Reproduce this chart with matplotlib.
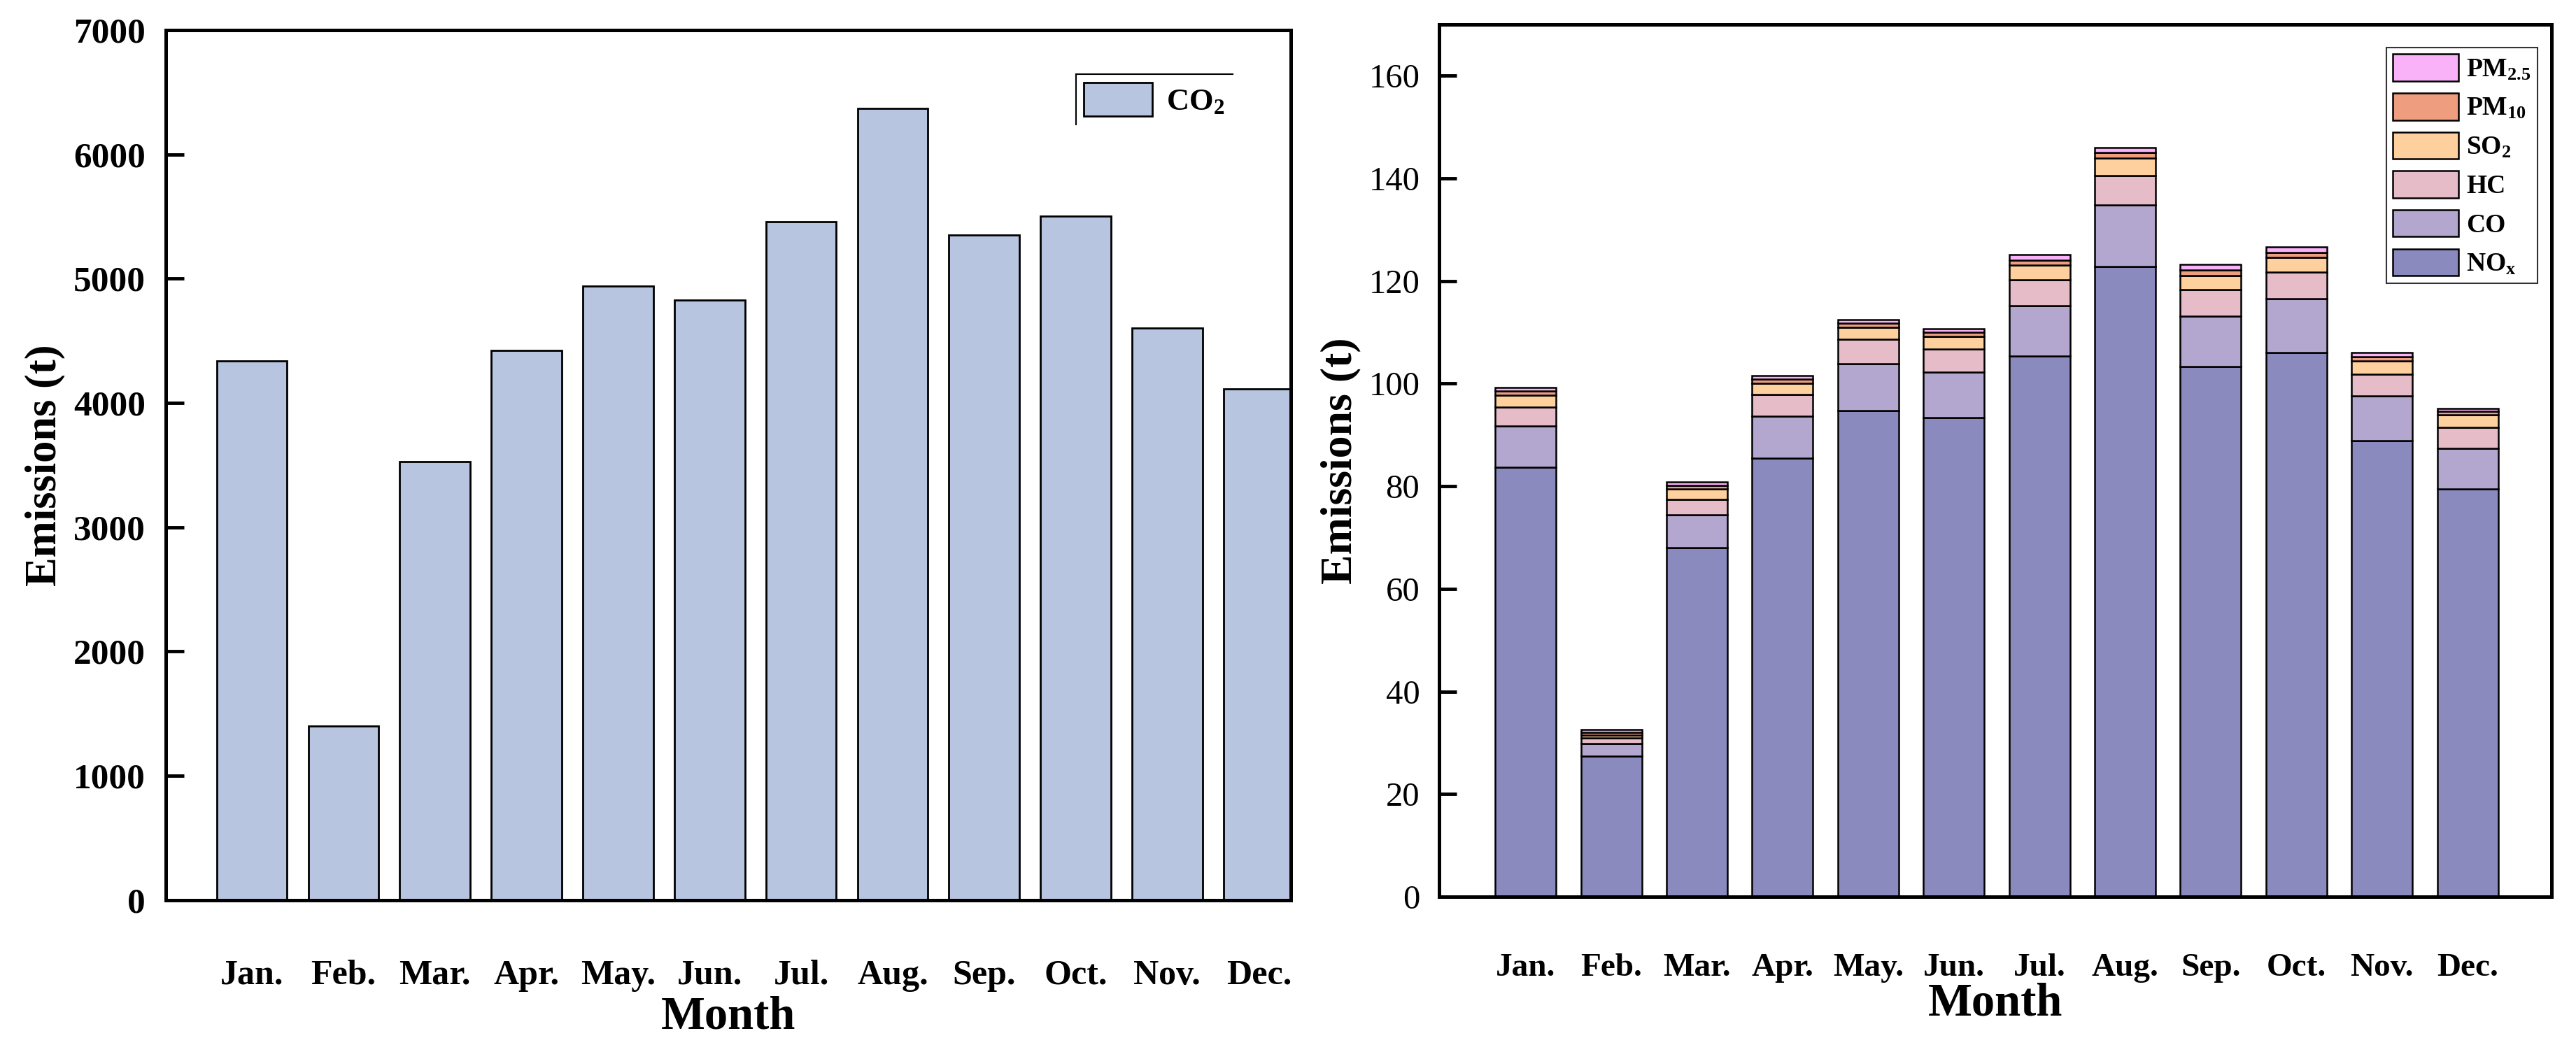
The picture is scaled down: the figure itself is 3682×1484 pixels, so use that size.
import matplotlib
matplotlib.use("Agg")
import matplotlib.pyplot as plt
import numpy as np
from matplotlib.lines import Line2D

plt.rcParams['font.family'] = ['Liberation Serif', 'DejaVu Serif']
plt.rcParams['mathtext.fontset'] = 'custom'
plt.rcParams['mathtext.rm'] = 'Liberation Serif:bold'
plt.rcParams['mathtext.it'] = 'Liberation Serif:bold'
plt.rcParams['mathtext.bf'] = 'Liberation Serif:bold'
plt.rcParams['mathtext.default'] = 'rm'

months = ['Jan.', 'Feb.', 'Mar.', 'Apr.', 'May.', 'Jun.', 'Jul.', 'Aug.', 'Sep.', 'Oct.', 'Nov.', 'Dec.']

co2 = [4340, 1400, 3530, 4420, 4940, 4830, 5460, 6370, 5350, 5500, 4600, 4110]

nox = [83.7, 27.4, 68.0, 85.5, 94.7, 93.4, 105.4, 122.8, 103.4, 106.1, 88.9, 79.5]
co = [8.1, 2.4, 6.5, 8.2, 9.2, 8.8, 9.8, 12.0, 9.8, 10.5, 8.7, 7.9]
hc = [3.6, 1.2, 3.0, 4.2, 4.8, 4.5, 5.1, 5.7, 5.1, 5.2, 4.3, 4.1]
so2 = [2.3, 0.5, 2.0, 2.2, 2.3, 2.5, 2.8, 3.5, 2.8, 2.8, 2.5, 2.5]
pm10 = [0.9, 0.6, 0.7, 0.8, 0.8, 0.8, 1.0, 1.1, 1.1, 1.0, 0.9, 0.6]
pm25 = [0.7, 0.5, 0.6, 0.7, 0.7, 0.7, 1.0, 0.9, 1.0, 1.0, 0.7, 0.6]

series = [
    ('NO$_{x}$', nox, '#8A8ABF'),
    ('CO', co, '#B4A7CF'),
    ('HC', hc, '#E6BCC8'),
    ('SO$_{2}$', so2, '#FDD09E'),
    ('PM$_{10}$', pm10, '#EE9E7F'),
    ('PM$_{2.5}$', pm25, '#F9B2F8'),
]

fig = plt.figure(figsize=(36.82, 14.84), dpi=100)
ax1 = fig.add_axes([0.0644, 0.1328, 0.4367, 0.8383])
ax2 = fig.add_axes([0.5587, 0.1361, 0.4318, 0.8403])

x = np.arange(len(months))

# Left chart
ax1.bar(x, co2, width=0.77, color='#B7C5E0', edgecolor='black', linewidth=2.0, label='CO$_{2}$')
ax1.set_xlim(-0.94, 11.35)
ax1.set_ylim(0, 7000)
ax1.set_yticks(np.arange(0, 7001, 1000))
ax1.set_xticks(x)
ax1.set_xticklabels(months, fontsize=36, fontweight='bold')
for lab in ax1.get_yticklabels():
    lab.set_fontsize(37)
    lab.set_fontweight('bold')
ax1.tick_params(axis='y', direction='in', length=19, width=3.5, pad=21)
ax1.tick_params(axis='x', length=0, pad=61)
ax1.set_ylabel('Emissions (t)', fontsize=45, fontweight='bold', labelpad=8)
ax1.set_xlabel('Month', fontsize=48, fontweight='bold', labelpad=4)
for s in ax1.spines.values():
    s.set_linewidth(3.6)

leg1 = ax1.legend(loc='upper left', bbox_to_anchor=(0.809, 0.949), borderaxespad=0,
                  frameon=False, prop={'family': 'Liberation Serif', 'weight': 'bold', 'size': 32},
                  handlelength=2.2, handleheight=1.3, handletextpad=0.45, borderpad=0.26)

# Right chart
bottom = np.zeros(len(months))
handles = []
for name, vals, col in series:
    b = ax2.bar(x, vals, width=0.71, bottom=bottom, color=col, edgecolor='black',
                linewidth=1.8, label=name)
    handles.append(b)
    bottom = bottom + np.array(vals)
ax2.set_xlim(-1.01, 11.98)
ax2.set_ylim(0, 170)
ax2.set_yticks(np.arange(0, 161, 20))
ax2.set_xticks(x)
ax2.set_xticklabels(months, fontsize=34, fontweight='bold')
for lab in ax2.get_yticklabels():
    lab.set_fontsize(35)
ax2.tick_params(axis='y', direction='in', length=18, width=3.5, pad=20)
ax2.tick_params(axis='x', length=0, pad=58)
ax2.set_ylabel('Emissions (t)', fontsize=46, fontweight='bold', labelpad=8)
ax2.set_xlabel('Month', fontsize=48, fontweight='bold', labelpad=0)
for s in ax2.spines.values():
    s.set_linewidth(3.6)

leg2 = ax2.legend(handles[::-1], [h.get_label() for h in handles[::-1]],
                  loc='upper left', bbox_to_anchor=(0.8516, 0.9735), borderaxespad=0,
                  prop={'family': 'Liberation Serif', 'weight': 'bold', 'size': 27},
                  handlelength=2.5, handleheight=1.2, labelspacing=0.42, handletextpad=0.3,
                  borderpad=0.25, fancybox=False, edgecolor='#333333', framealpha=1)
leg2.get_frame().set_linewidth(1.5)

# partial frame (top and left) on the left legend
fig.canvas.draw()
bb = leg1.get_window_extent().transformed(fig.transFigure.inverted())
fig.add_artist(Line2D([bb.x0, bb.x1], [bb.y1, bb.y1], transform=fig.transFigure, color='black', lw=1.5))
fig.add_artist(Line2D([bb.x0, bb.x0], [bb.y0, bb.y1], transform=fig.transFigure, color='black', lw=1.5))

fig.savefig('out.png', dpi=100)
